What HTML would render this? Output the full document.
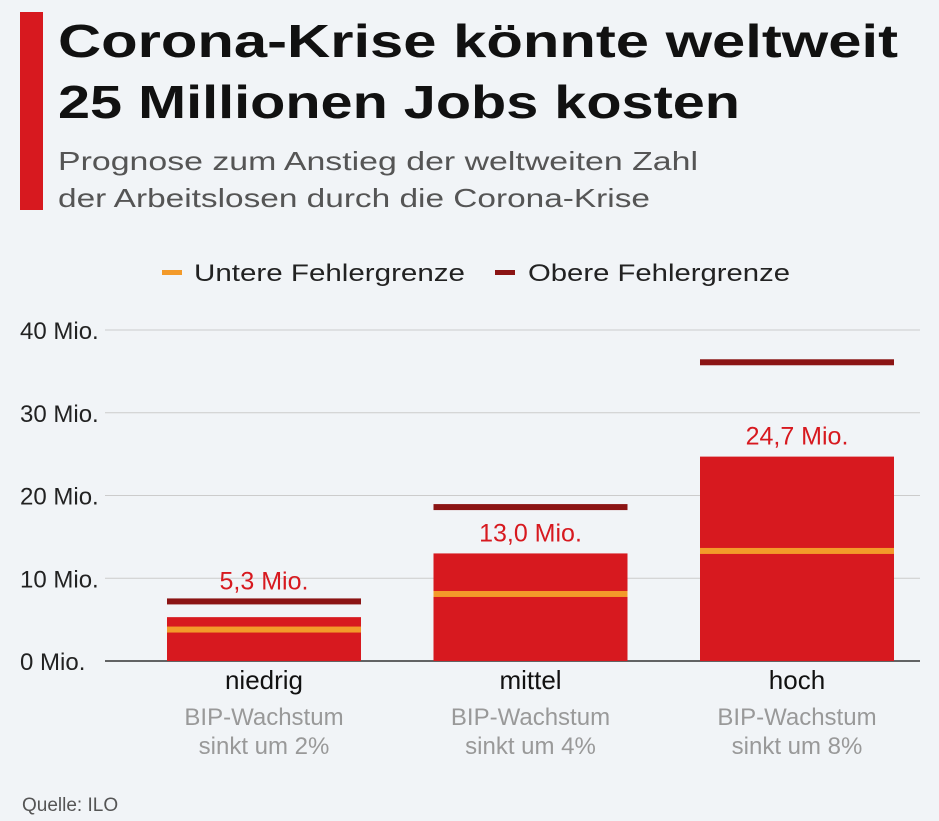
<!DOCTYPE html>
<html><head><meta charset="utf-8"><style>
body{margin:0;background:#f1f4f7;}
svg{display:block;font-family:"Liberation Sans",sans-serif;}
</style></head><body>
<svg id="c" width="939" height="821">
<rect x="0" y="0" width="939" height="821" fill="#f1f4f7"/>
<rect x="20" y="12" width="23" height="198" fill="#d7191f"/>
<text x="58" y="57" font-size="46" font-weight="bold" fill="#111" textLength="840" lengthAdjust="spacingAndGlyphs">Corona-Krise könnte weltweit</text>
<text x="58" y="118" font-size="46" font-weight="bold" fill="#111" textLength="682" lengthAdjust="spacingAndGlyphs">25 Millionen Jobs kosten</text>
<text x="58" y="170" font-size="26" fill="#555" textLength="640" lengthAdjust="spacingAndGlyphs">Prognose zum Anstieg der weltweiten Zahl</text>
<text x="58" y="207" font-size="26" fill="#555" textLength="592" lengthAdjust="spacingAndGlyphs">der Arbeitslosen durch die Corona-Krise</text>
<g>
<rect x="162" y="270" width="20" height="5" fill="#f39a2a"/>
<text x="194" y="281" font-size="24" fill="#222" textLength="271" lengthAdjust="spacingAndGlyphs">Untere Fehlergrenze</text>
<rect x="495" y="270" width="20" height="5" fill="#8b1414"/>
<text x="528" y="281" font-size="24" fill="#222" textLength="262" lengthAdjust="spacingAndGlyphs">Obere Fehlergrenze</text>
</g>
<g id="plot"></g>
<text x="22" y="811" font-size="19" fill="#555">Quelle: ILO</text>
</svg>
<script>
const categories=["niedrig","mittel","hoch"];
const subLabels1=["BIP-Wachstum","BIP-Wachstum","BIP-Wachstum"];
const subLabels2=["sinkt um 2%","sinkt um 4%","sinkt um 8%"];
const values=[5.3,13.0,24.7];
const valueLabels=["5,3 Mio.","13,0 Mio.","24,7 Mio."];
const lowerBound=[3.8,8.1,13.3];
const upperBound=[7.2,18.6,36.1];
const yTicks=[0,10,20,30,40];
const yTickLabels=["0 Mio.","10 Mio.","20 Mio.","30 Mio.","40 Mio."];

const NS="http://www.w3.org/2000/svg";
const g=document.getElementById('plot');
const y0=661,pxPer=82.75/10;
function y(v){return y0-v*pxPer;}
const bandStart=167,bandStep=266.5,barW=194;
function x(i){return bandStart+i*bandStep;}
function mk(t,a,txt){const e=document.createElementNS(NS,t);for(const k in a)e.setAttribute(k,a[k]);if(txt!=null)e.textContent=txt;g.appendChild(e);return e;}

yTicks.forEach((t,i)=>{
  const l=mk('line',{x1:105,x2:920,y1:y(t),y2:y(t),stroke:i===0?'#333':'#ccc','stroke-width':i===0?1.5:1});
  
  
  const tx=mk('text',{x:20,y:y(t)+9,'font-size':24,fill:'#222'},yTickLabels[i]);
  
  
});
categories.forEach((c,i)=>{
  const cx=x(i)+barW/2;
  const b=mk('rect',{x:x(i),y:y(values[i]),width:barW,height:y0-y(values[i]),fill:'#d7191f'});
  
  
  const lo=mk('rect',{x:x(i),y:y(lowerBound[i])-3,width:barW,height:6,fill:'#f39a2a'});
  
  
  const up=mk('rect',{x:x(i),y:y(upperBound[i])-3,width:barW,height:6,fill:'#8b1414'});
  
  
  let ly=y(values[i])-12;
  if(y(values[i])-y(upperBound[i])<35) ly=y(upperBound[i])-12;
  const vl=mk('text',{x:cx,y:ly,'font-size':25,fill:'#d7191f','text-anchor':'middle'},valueLabels[i]);
  
  
  const cl=mk('text',{x:cx,y:689,'font-size':26,fill:'#111','text-anchor':'middle'},c);
  
  
  const s1=mk('text',{x:cx,y:725,'font-size':24,fill:'#999','text-anchor':'middle'},subLabels1[i]);
  
  
  const s2=mk('text',{x:cx,y:754,'font-size':24,fill:'#999','text-anchor':'middle'},subLabels2[i]);
  
  
});
</script>
</body></html>
